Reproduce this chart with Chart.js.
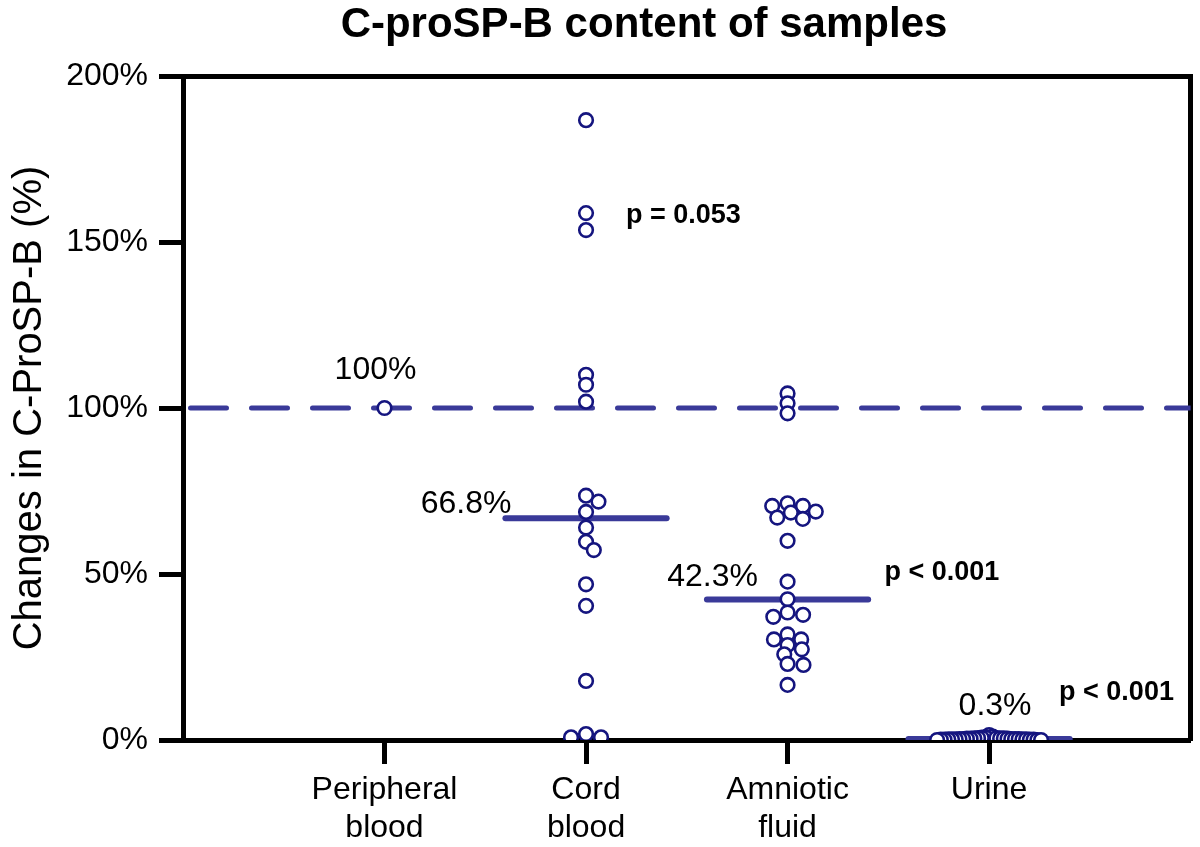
<!DOCTYPE html>
<html><head><meta charset="utf-8">
<script src="https://cdn.jsdelivr.net/npm/chart.js@4.4.1/dist/chart.umd.min.js"></script>
<style>html,body{margin:0;padding:0;background:#fff}</style>
</head><body>
<canvas id="c" width="1200" height="847"></canvas>
<script>
// ---- data ----
const categories = [['Peripheral', 'blood'], ['Cord', 'blood'], ['Amniotic', 'fluid'], ['Urine']];
const peripheralBlood = [100];
const cordBlood = [186.7, 158.7, 153.6, 110, 107, 101.9, 73.6, 71.8, 68.7, 64, 59.7, 57.2, 46.9, 40.4, 17.8, 1.8, 0.8, 0.8];
const amnioticFluid = [104.4, 101.4, 98.4, 71.3, 70.5, 70.5, 68.8, 68.5, 67, 66.6, 60, 47.7, 42.4, 38.4, 37.7, 37.1, 31.8, 30.3, 30.3, 28.6, 27.3, 25.8, 22.9, 22.6, 16.6];
const urine = [1.5, 1.0, 0.8, 0.7, 0.6, 0.6, 0.5, 0.5, 0.5, 0.4, 0.4, 0.4, 0.3, 0.3, 0.3, 0.3, 0.3, 0.2, 0.2, 0.2, 0.2, 0.2, 0.1, 0.1, 0.1, 0.1, 0.0, 0.0, 0.0];
const medians = [null, 66.8, 42.3, 0.3];
const medianLabels = ['100%', '66.8%', '42.3%', '0.3%'];
const pValueLabels = [null, 'p = 0.053', 'p < 0.001', 'p < 0.001'];
const referenceLevel = 100;
const yTickValues = [0, 50, 100, 150, 200];
const chartTitle = 'C-proSP-B content of samples';
const yAxisTitle = 'Changes in C-ProSP-B (%)';

// ---- styling ----
Chart.defaults.font.family = "'Liberation Sans', Arial, Helvetica, sans-serif";
Chart.defaults.color = '#000';
const POINT_COLOR = '#15157f';
const LINE_COLOR = '#3a3a99';
const groups = [peripheralBlood, cordBlood, amnioticFluid, urine];

const datasets = [];
groups.forEach((vals, i) => {
  datasets.push({
    type: 'scatter',
    data: vals.map(v => ({ x: i + 1, y: v })),
    pointRadius: 6.8, pointHoverRadius: 6.8,
    pointBorderWidth: 2.6,
    borderColor: POINT_COLOR, backgroundColor: '#fff'
  });
});
medians.forEach((m, i) => {
  if (m === null) return;
  datasets.push({
    type: 'line',
    data: [{ x: i + 1 - 0.4, y: m }, { x: i + 1 + 0.4, y: m }],
    borderColor: LINE_COLOR, borderWidth: 6, borderCapStyle: 'round',
    pointRadius: 0, fill: false
  });
});
datasets.push({
  type: 'line',
  data: [{ x: 0, y: referenceLevel }, { x: 5, y: referenceLevel }],
  borderColor: LINE_COLOR, borderWidth: 5,
  borderDash: [36, 25], borderDashOffset: 53.5, borderCapStyle: 'round',
  pointRadius: 0, fill: false
});

const annotationPlugin = {
  id: 'annotations',
  afterDraw(chart) {
    const { ctx } = chart;
    const xs = chart.scales.x, ys = chart.scales.y;
    const unit = xs.getPixelForValue(1) - xs.getPixelForValue(0);
    ctx.save();
    ctx.fillStyle = '#000';
    // title
    ctx.font = "bold 42px 'Liberation Sans', Arial, sans-serif";
    ctx.textAlign = 'center'; ctx.textBaseline = 'middle';
    ctx.fillText(chartTitle, 644, 25);
    // median labels
    ctx.font = "32px 'Liberation Sans', Arial, sans-serif";
    const mv = [referenceLevel, medians[1], medians[2], medians[3]];
    const place = [
      { dx: -9, dy: -38, align: 'center' },
      { dx: -0.4 * unit + 6, dy: -14, align: 'right' },
      { dx: -75, dy: -22, align: 'center' },
      { dx: 6, dy: -33, align: 'center' }
    ];
    medianLabels.forEach((t, i) => {
      const p = place[i];
      ctx.textAlign = p.align;
      ctx.fillText(t, xs.getPixelForValue(i + 1) + p.dx, ys.getPixelForValue(mv[i]) + p.dy);
    });
    // p values
    ctx.font = "bold 27px 'Liberation Sans', Arial, sans-serif";
    ctx.textAlign = 'left';
    const pPlace = [null, { dx: 40, v: 158 }, { dx: 97, v: 50.3 }, { dx: 70, v: 14.2 }];
    pValueLabels.forEach((t, i) => {
      if (!t) return;
      ctx.fillText(t, xs.getPixelForValue(i + 1) + pPlace[i].dx, ys.getPixelForValue(pPlace[i].v));
    });
    ctx.restore();
  }
};

const chart = new Chart(document.getElementById('c'), {
  type: 'scatter',
  data: { datasets },
  plugins: [annotationPlugin],
  options: {
    responsive: false, animation: false, events: [],
    layout: { padding: 0 },
    plugins: { legend: { display: false }, tooltip: { enabled: false }, title: { display: false } },
    scales: {
      x: {
        type: 'linear', position: 'bottom', min: 0, max: 5,
        afterBuildTicks: s => { s.ticks = categories.map((c, i) => ({ value: i + 1 })); },
        afterFit: s => { s.height = 107; },
        ticks: { callback: v => categories[v - 1], font: { size: 32, lineHeight: 1.2 }, color: '#000', padding: 7, maxRotation: 0, autoSkip: false },
        grid: { display: true, drawOnChartArea: false, drawTicks: true, tickLength: 24, tickWidth: 5, tickColor: '#000', color: '#000' },
        border: { display: true, color: '#000', width: 5 }
      },
      xTop: {
        type: 'linear', position: 'top', min: 0, max: 5,
        ticks: { display: false }, grid: { display: false },
        border: { display: true, color: '#000', width: 5 },
        afterFit: s => { s.height = 76; }
      },
      y: {
        type: 'linear', position: 'left', min: 0, max: 200,
        afterBuildTicks: s => { s.ticks = yTickValues.map(v => ({ value: v })); },
        afterFit: s => { s.width = 183; },
        ticks: { callback: v => v + '%', font: { size: 32 }, color: '#000', padding: 11 },
        grid: { display: true, drawOnChartArea: false, drawTicks: true, tickLength: 24, tickWidth: 5, tickColor: '#000', color: '#000' },
        border: { display: true, color: '#000', width: 5 },
        title: { display: true, text: yAxisTitle, font: { size: 40 }, color: '#000', padding: { top: 6, bottom: 0 } }
      },
      yRight: {
        type: 'linear', position: 'right', min: 0, max: 200,
        ticks: { display: false }, grid: { display: false },
        border: { display: true, color: '#000', width: 5 },
        afterFit: s => { s.width = 5; }
      }
    }
  }
});

// beeswarm placement of the points, computed in pixel space from the chart's scales
function swarmOffsets(values, yScale, Dx, Dy, maxHalf) {
  const order = values.map((v, i) => i).sort((a, b) => values[b] - values[a]);
  const placed = [];
  const off = new Array(values.length).fill(0);
  order.forEach(idx => {
    const y = yScale.getPixelForValue(values[idx]);
    const intervals = [];
    placed.forEach(p => {
      const dy = Math.abs(p.y - y);
      if (dy < Dy) { const w = Dx * Math.sqrt(1 - (dy / Dy) * (dy / Dy)); intervals.push([p.x - w, p.x + w]); }
    });
    const cands = [0];
    intervals.forEach(([a, b]) => cands.push(a, b));
    const ok = c => intervals.every(([a, b]) => c <= a + 1e-6 || c >= b - 1e-6);
    let best = null;
    cands.forEach(c => {
      if (!ok(c)) return;
      if (best === null || Math.abs(c) < Math.abs(best) - 1e-6 ||
          (Math.abs(Math.abs(c) - Math.abs(best)) < 1e-6 && c > best)) best = c;
    });
    off[idx] = best;
    placed.push({ x: best, y });
  });
  const maxAbs = Math.max(0, ...off.map(Math.abs));
  const k = maxAbs > maxHalf ? maxHalf / maxAbs : 1;
  return off.map(o => o * k);
}
(function applySwarm() {
  const xs = chart.scales.x, ys = chart.scales.y;
  const unit = xs.getPixelForValue(1) - xs.getPixelForValue(0);
  groups.forEach((vals, i) => {
    const offs = swarmOffsets(vals, ys, 16, 9.5, 52);
    chart.data.datasets[i].data = vals.map((v, j) => ({ x: i + 1 + offs[j] / unit, y: v }));
  });
  chart.update('none');
})();
</script>
</body></html>
